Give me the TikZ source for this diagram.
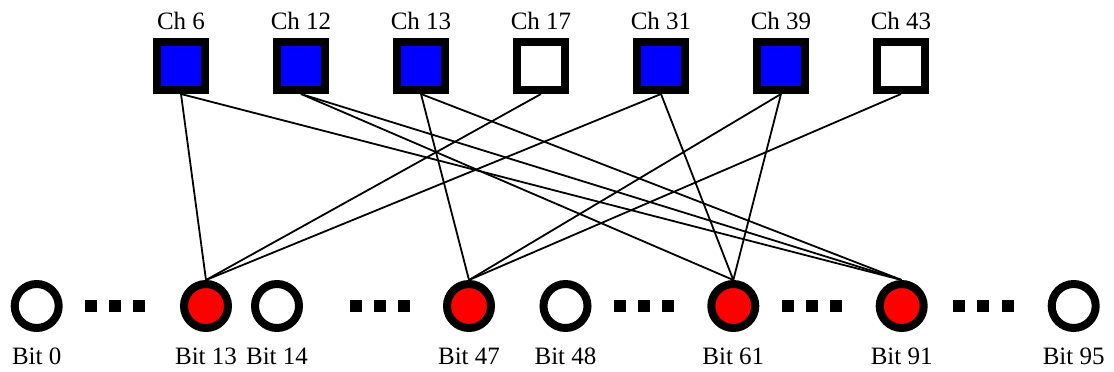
\documentclass[tikz,border=0pt]{standalone}
\usepackage{fontspec}
\setmainfont{Liberation Serif}
\begin{document}
\begin{tikzpicture}[x=1pt,y=-1pt,
  chk/.style={rectangle,draw=black,line width=8pt,minimum size=48pt,inner sep=0pt},
  on/.style={chk,fill=blue},
  off/.style={chk,fill=white},
  bitnode/.style={circle,draw=black,line width=8pt,minimum size=44pt,inner sep=0pt,fill=white},
  err/.style={bitnode,fill=red},
  lbl/.style={font=\fontsize{25}{29}\selectfont,anchor=base,inner sep=0pt},
  gap/.style={rectangle,fill=black,minimum size=12pt,inner sep=0pt},
  edge/.style={line width=1.8pt}]
\useasboundingbox (0,0) rectangle (1114,372);

% check nodes
\foreach \n/\x/\s in {6/181/on,12/301/on,13/421/on,17/541/off,31/661/on,39/781/on,43/901/off}{
  \node[\s] (c\n) at (\x,66) {};
  \node[lbl] (lc\n) at (\x,29.5) {Ch \n};
}

% variable nodes
\foreach \n/\x/\s in {0/36.7/bitnode,13/206/err,14/277/bitnode,47/469/err,48/565.5/bitnode,61/733.3/err,91/901.7/err,95/1073.7/bitnode}{
  \node[\s] (b\n) at (\x,306) {};
  \node[lbl] (lb\n) at (\x,364) {Bit \n};
}

% ellipsis marks between variable nodes
\foreach \x [count=\i] in {91,114.5,139,356,379.5,403.5,620,644,667.5,787.5,811.5,836,959,983,1007.5}{
  \node[gap] (g\i) at (\x,306) {};
}

% connections
\foreach \c/\b in {6/13,6/91,12/61,12/91,13/47,13/91,17/13,31/13,31/61,39/47,39/61,43/47}{
  \draw[edge] (c\c.south) -- (b\b.north);
}
\end{tikzpicture}
\end{document}
